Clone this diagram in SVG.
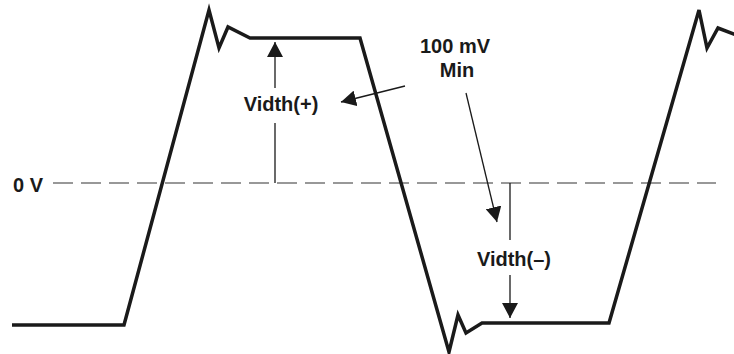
<svg xmlns="http://www.w3.org/2000/svg" width="734" height="354" viewBox="0 0 734 354">
<style>
.wave{fill:none;stroke:#1a1a1a;stroke-width:3.5;stroke-linejoin:miter;stroke-miterlimit:4}
.zero{fill:none;stroke:#333;stroke-width:1.2;stroke-dasharray:20 8}
.thin{fill:none;stroke:#1a1a1a;stroke-width:1.3}
.lbl{font-family:"Liberation Sans",Arial,sans-serif;font-weight:bold;font-size:20px;fill:#1a1a1a}
</style>
<defs>
<marker id="ah" viewBox="0 0 16 16" markerWidth="16" markerHeight="16" refX="15" refY="8" orient="auto" markerUnits="userSpaceOnUse">
<path d="M0,0 L15,8 L0,16 z" fill="#1a1a1a"/>
</marker>
</defs>
<g id="zero-line">
<line class="zero" x1="53" y1="183" x2="716" y2="183"/>
<text class="lbl" x="13" y="192">0 V</text>
</g>
<g id="waveform">
<path class="wave" d="M12,325 L124,325 L209,10 L219,48 L228,27 L250,38 L360,38 L449,352 L458,315 L466,333 L482,323 L609,323 L699,10 L707,48 L718,28 L736,35"/>
</g>
<g id="label-vidth-plus">
<text class="lbl" x="281" y="111" text-anchor="middle">Vidth(+)</text>
</g>
<g id="label-vidth-minus">
<text class="lbl" x="514" y="266" text-anchor="middle">Vidth(–)</text>
</g>
<g id="label-min">
<text class="lbl" x="455" y="53" text-anchor="middle">100 mV</text>
<text class="lbl" x="457" y="77" text-anchor="middle">Min</text>
</g>
<g id="connectors">
<line class="thin" x1="275" y1="88" x2="275" y2="42" marker-end="url(#ah)"/>
<line class="thin" x1="275" y1="123" x2="275" y2="183"/>
<line class="thin" x1="510" y1="183" x2="510" y2="240"/>
<line class="thin" x1="510" y1="275" x2="510" y2="318" marker-end="url(#ah)"/>
<line class="thin" x1="405" y1="86" x2="341" y2="102" marker-end="url(#ah)"/>
<line class="thin" x1="466" y1="93" x2="497" y2="222" marker-end="url(#ah)"/>
</g>
</svg>
